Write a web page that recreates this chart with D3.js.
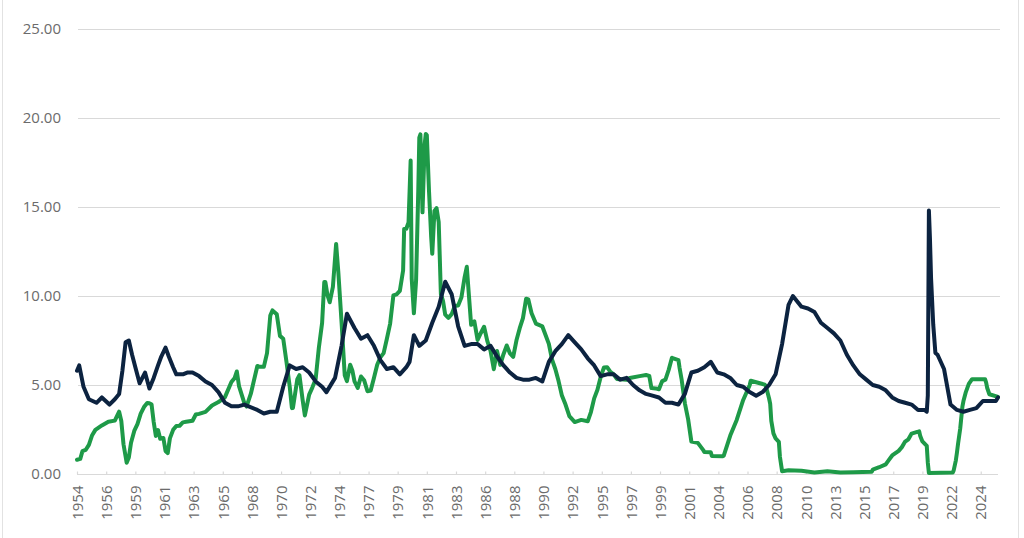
<!DOCTYPE html>
<html>
<head>
<meta charset="utf-8">
<script src="https://cdn.jsdelivr.net/npm/d3@7"></script>
<style>
  html, body { margin: 0; padding: 0; background: #ffffff; }
  svg { display: block; }
</style>
</head>
<body>
<svg id="chart" width="1024" height="538"></svg>
<script>
// ---------------- DATA ----------------
const yTicks = [0, 5, 10, 15, 20, 25];
const xTickLabels = ["1954","1956","1959","1961","1963","1965","1968","1970","1972","1974","1977","1979","1981","1983","1986","1988","1990","1992","1995","1997","1999","2001","2004","2006","2008","2010","2013","2015","2017","2019","2022","2024"];
const xTickStart = "1954-07";
const xTickStepMonths = 27;
const xDomain = ["1954-07", "2025-08"];

// Federal funds rate (green), [month, percent]
const fedFunds = [
["1954-07",0.80],["1954-10",0.85],["1954-12",1.28],["1955-03",1.35],["1955-06",1.64],["1955-09",2.18],["1955-12",2.48],
["1956-06",2.73],["1956-12",2.94],["1957-06",3.00],["1957-10",3.50],["1957-12",2.98],["1958-02",1.67],["1958-05",0.63],
["1958-07",0.93],["1958-09",1.76],["1958-12",2.42],["1959-03",2.80],["1959-06",3.39],["1959-09",3.76],["1959-12",3.99],
["1960-02",3.97],["1960-04",3.92],["1960-06",2.92],["1960-08",2.14],["1960-10",2.47],["1960-12",1.98],["1961-03",2.02],
["1961-05",1.29],["1961-07",1.17],["1961-09",2.00],["1961-12",2.48],["1962-03",2.70],["1962-06",2.71],["1962-09",2.90],
["1962-12",2.93],["1963-06",2.99],["1963-09",3.34],["1963-12",3.38],["1964-06",3.49],["1964-12",3.85],["1965-06",4.04],
["1965-12",4.32],["1966-06",5.17],["1966-09",5.40],["1966-11",5.76],["1967-01",4.94],["1967-06",3.98],["1967-08",3.79],
["1967-12",4.51],["1968-06",6.07],["1968-08",6.02],["1968-12",6.02],["1969-03",6.79],["1969-06",8.90],["1969-08",9.19],
["1969-12",8.97],["1970-03",7.76],["1970-06",7.60],["1970-09",6.29],["1970-12",4.90],["1971-02",3.70],["1971-03",3.71],
["1971-07",5.31],["1971-09",5.55],["1971-12",4.14],["1972-02",3.29],["1972-06",4.46],["1972-09",4.87],["1972-12",5.33],
["1973-03",7.09],["1973-06",8.49],["1973-08",10.78],["1973-09",10.78],["1973-11",10.03],["1974-01",9.65],["1974-04",10.51],
["1974-07",12.92],["1974-09",11.34],["1974-12",8.53],["1975-03",5.54],["1975-05",5.22],["1975-08",6.14],["1975-10",5.82],
["1975-12",5.20],["1976-03",4.84],["1976-06",5.48],["1976-09",5.25],["1976-12",4.65],["1977-03",4.69],["1977-06",5.39],
["1977-09",6.14],["1977-12",6.56],["1978-03",6.79],["1978-06",7.60],["1978-09",8.45],["1978-12",10.03],["1979-03",10.09],
["1979-06",10.29],["1979-09",11.43],["1979-10",13.77],["1979-12",13.78],["1980-02",14.13],["1980-04",17.61],["1980-05",10.98],
["1980-07",9.03],["1980-09",10.87],["1980-11",15.85],["1980-12",18.90],["1981-01",19.08],["1981-03",14.70],["1981-05",18.52],
["1981-06",19.10],["1981-07",19.04],["1981-09",15.87],["1981-11",13.31],["1981-12",12.37],["1982-02",14.78],["1982-04",14.94],
["1982-06",14.15],["1982-08",10.12],["1982-10",9.71],["1982-12",8.95],["1983-03",8.77],["1983-06",8.98],["1983-09",9.45],
["1983-12",9.47],["1984-03",9.91],["1984-06",11.06],["1984-08",11.64],["1984-10",9.99],["1984-12",8.38],["1985-03",8.58],
["1985-06",7.53],["1985-09",7.92],["1985-12",8.27],["1986-03",7.48],["1986-06",6.92],["1986-09",5.89],["1986-12",6.91],
["1987-03",6.13],["1987-06",6.73],["1987-09",7.22],["1987-12",6.77],["1988-03",6.58],["1988-06",7.51],["1988-09",8.19],
["1988-12",8.76],["1989-03",9.85],["1989-05",9.81],["1989-08",9.03],["1989-12",8.45],["1990-06",8.29],["1990-12",7.31],
["1991-03",6.43],["1991-06",5.90],["1991-09",5.22],["1991-12",4.43],["1992-03",3.98],["1992-07",3.25],["1992-12",2.92],
["1993-06",3.04],["1993-12",2.96],["1994-03",3.48],["1994-06",4.25],["1994-09",4.73],["1994-12",5.45],["1995-03",5.98],
["1995-06",6.00],["1995-09",5.74],["1995-12",5.60],["1996-03",5.34],["1996-12",5.29],["1997-03",5.39],["1997-12",5.50],
["1998-06",5.56],["1998-09",5.51],["1998-11",4.83],["1999-03",4.81],["1999-06",4.76],["1999-09",5.22],["1999-12",5.30],
["2000-03",5.85],["2000-06",6.53],["2000-12",6.40],["2001-01",5.98],["2001-03",5.31],["2001-06",3.97],["2001-09",3.07],
["2001-12",1.82],["2002-06",1.75],["2002-11",1.34],["2002-12",1.24],["2003-06",1.22],["2003-07",1.01],["2004-05",1.00],
["2004-06",1.03],["2004-12",2.16],["2005-06",3.04],["2005-12",4.16],["2006-06",4.99],["2006-07",5.24],["2007-08",5.02],
["2007-09",4.94],["2007-12",4.24],["2008-01",3.94],["2008-02",2.98],["2008-04",2.28],["2008-06",2.00],["2008-09",1.81],
["2008-10",0.97],["2008-12",0.16],["2009-06",0.21],["2010-06",0.18],["2011-06",0.09],["2012-06",0.16],["2013-06",0.09],
["2014-06",0.10],["2015-11",0.12],["2015-12",0.24],["2016-06",0.38],["2016-12",0.54],["2017-03",0.79],["2017-06",1.04],
["2017-12",1.30],["2018-03",1.51],["2018-06",1.82],["2018-09",1.95],["2018-12",2.27],["2019-06",2.38],["2019-07",2.40],
["2019-08",2.13],["2019-10",1.83],["2020-02",1.58],["2020-03",0.65],["2020-04",0.05],["2022-02",0.08],["2022-03",0.20],
["2022-05",0.77],["2022-06",1.21],["2022-07",1.68],["2022-09",2.56],["2022-11",3.78],["2022-12",4.10],["2023-02",4.57],
["2023-05",5.06],["2023-08",5.33],["2024-08",5.33],["2024-09",5.13],["2024-10",4.83],["2024-12",4.48],["2025-08",4.33]
];

// Unemployment rate (navy), [month, percent]
const unemployment = [
["1954-07",5.8],["1954-09",6.1],["1955-01",4.9],["1955-06",4.2],["1956-01",4.0],["1956-06",4.3],["1957-01",3.9],
["1957-06",4.2],["1957-10",4.5],["1958-01",5.8],["1958-04",7.4],["1958-07",7.5],["1958-10",6.7],["1959-01",6.0],
["1959-05",5.1],["1959-10",5.7],["1960-02",4.8],["1960-06",5.4],["1960-10",6.1],["1961-01",6.6],["1961-05",7.1],
["1961-08",6.6],["1961-12",6.0],["1962-03",5.6],["1962-09",5.6],["1963-01",5.7],["1963-06",5.7],["1963-12",5.5],
["1964-06",5.2],["1964-12",5.0],["1965-06",4.6],["1965-12",4.0],["1966-06",3.8],["1966-12",3.8],["1967-06",3.9],
["1968-06",3.6],["1968-12",3.4],["1969-06",3.5],["1969-12",3.5],["1970-06",4.9],["1970-12",6.1],["1971-06",5.9],
["1971-12",6.0],["1972-06",5.7],["1972-12",5.2],["1973-06",4.9],["1973-10",4.6],["1974-06",5.4],["1974-12",7.2],
["1975-05",9.0],["1975-12",8.2],["1976-06",7.6],["1976-12",7.8],["1977-06",7.2],["1977-12",6.4],["1978-06",5.9],
["1978-12",6.0],["1979-06",5.6],["1979-12",6.0],["1980-03",6.3],["1980-07",7.8],["1980-12",7.2],["1981-06",7.5],
["1981-12",8.5],["1982-06",9.4],["1982-12",10.8],["1983-06",10.1],["1983-12",8.3],["1984-06",7.2],["1984-12",7.3],
["1985-06",7.3],["1985-12",7.0],["1986-06",7.2],["1986-12",6.6],["1987-06",6.1],["1987-12",5.7],["1988-06",5.4],
["1988-12",5.3],["1989-06",5.3],["1989-12",5.4],["1990-06",5.2],["1990-12",6.3],["1991-06",6.9],["1991-12",7.3],
["1992-06",7.8],["1992-12",7.4],["1993-06",7.0],["1993-12",6.5],["1994-06",6.1],["1994-12",5.5],["1995-06",5.6],
["1995-12",5.6],["1996-06",5.3],["1996-12",5.4],["1997-06",5.0],["1997-12",4.7],["1998-06",4.5],["1998-12",4.4],
["1999-06",4.3],["1999-12",4.0],["2000-06",4.0],["2000-12",3.9],["2001-06",4.5],["2001-12",5.7],["2002-06",5.8],
["2002-12",6.0],["2003-06",6.3],["2003-12",5.7],["2004-06",5.6],["2004-12",5.4],["2005-06",5.0],["2005-12",4.9],
["2006-06",4.6],["2006-12",4.4],["2007-06",4.6],["2007-12",5.0],["2008-06",5.6],["2008-12",7.3],["2009-06",9.5],
["2009-10",10.0],["2010-06",9.4],["2010-12",9.3],["2011-06",9.1],["2011-12",8.5],["2012-06",8.2],["2012-12",7.9],
["2013-06",7.5],["2013-12",6.7],["2014-06",6.1],["2014-12",5.6],["2015-06",5.3],["2015-12",5.0],["2016-06",4.9],
["2016-12",4.7],["2017-06",4.3],["2017-12",4.1],["2018-06",4.0],["2018-12",3.9],["2019-06",3.6],["2019-12",3.6],
["2020-02",3.5],["2020-03",4.4],["2020-04",14.8],["2020-05",13.2],["2020-06",11.0],["2020-08",8.4],["2020-10",6.8],
["2020-12",6.7],["2021-06",5.9],["2021-12",3.9],["2022-06",3.6],["2022-12",3.5],["2023-06",3.6],["2023-12",3.7],
["2024-06",4.1],["2024-12",4.1],["2025-06",4.1],["2025-08",4.3]
];

// ---------------- CHART ----------------
const parse = d3.timeParse("%Y-%m");
const svg = d3.select("#chart");

// outer frame
svg.append("rect").attr("x", 2.5).attr("y", -2).attr("width", 1016).attr("height", 560)
  .attr("fill", "none").attr("stroke", "#e2e2e2").attr("stroke-width", 1);

const x = d3.scaleTime().domain(xDomain.map(parse)).range([77, 998]);
const y = d3.scaleLinear().domain([0, 25]).range([474, 29]);

// gridlines
svg.append("g").selectAll("line").data(yTicks.filter(d => d > 0)).join("line")
  .attr("x1", 78).attr("x2", 1000)
  .attr("y1", d => y(d) + 0.5).attr("y2", d => y(d) + 0.5)
  .attr("stroke", "#d9d9d9").attr("stroke-width", 1.2);

// y labels
svg.append("g").selectAll("text").data(yTicks).join("text")
  .attr("x", 61).attr("y", d => y(d)).attr("dy", "0.35em")
  .attr("text-anchor", "end")
  .attr("font-family", "'Open Sans', 'Noto Sans', sans-serif")
  .attr("font-size", 15).attr("fill", "#6b6b6b")
  .text(d3.format(".2f"));

// x axis
const tickDates = xTickLabels.map((_, i) => d3.timeMonth.offset(parse(xTickStart), i * xTickStepMonths));
const xAxis = d3.axisBottom(x).tickValues(tickDates).tickSize(-3).tickSizeOuter(0)
  .tickFormat((d, i) => xTickLabels[i]);
const gx = svg.append("g").attr("transform", "translate(0,474.5)").call(xAxis);
gx.select(".domain").attr("stroke", "#d9d9d9").attr("stroke-width", 1.2)
  .attr("d", `M${x.range()[0]},0H${x.range()[1]}`);
gx.selectAll(".tick line").attr("stroke", "#d9d9d9").attr("stroke-width", 1.2);
gx.selectAll(".tick text")
  .attr("font-family", "'Open Sans', 'Noto Sans', sans-serif")
  .attr("font-size", 15).attr("fill", "#6b6b6b")
  .attr("transform", "rotate(-90)")
  .attr("text-anchor", "end")
  .attr("x", -11).attr("y", 0).attr("dy", "0.35em");

// lines
const line = d3.line().x(d => x(parse(d[0]))).y(d => y(d[1]));
svg.append("path").datum(fedFunds).attr("d", line)
  .attr("fill", "none").attr("stroke", "#1e9a48").attr("stroke-width", 4)
  .attr("stroke-linejoin", "round").attr("stroke-linecap", "round");
svg.append("path").datum(unemployment).attr("d", line)
  .attr("fill", "none").attr("stroke", "#0c2340").attr("stroke-width", 4)
  .attr("stroke-linejoin", "round").attr("stroke-linecap", "round");
</script>
</body>
</html>
